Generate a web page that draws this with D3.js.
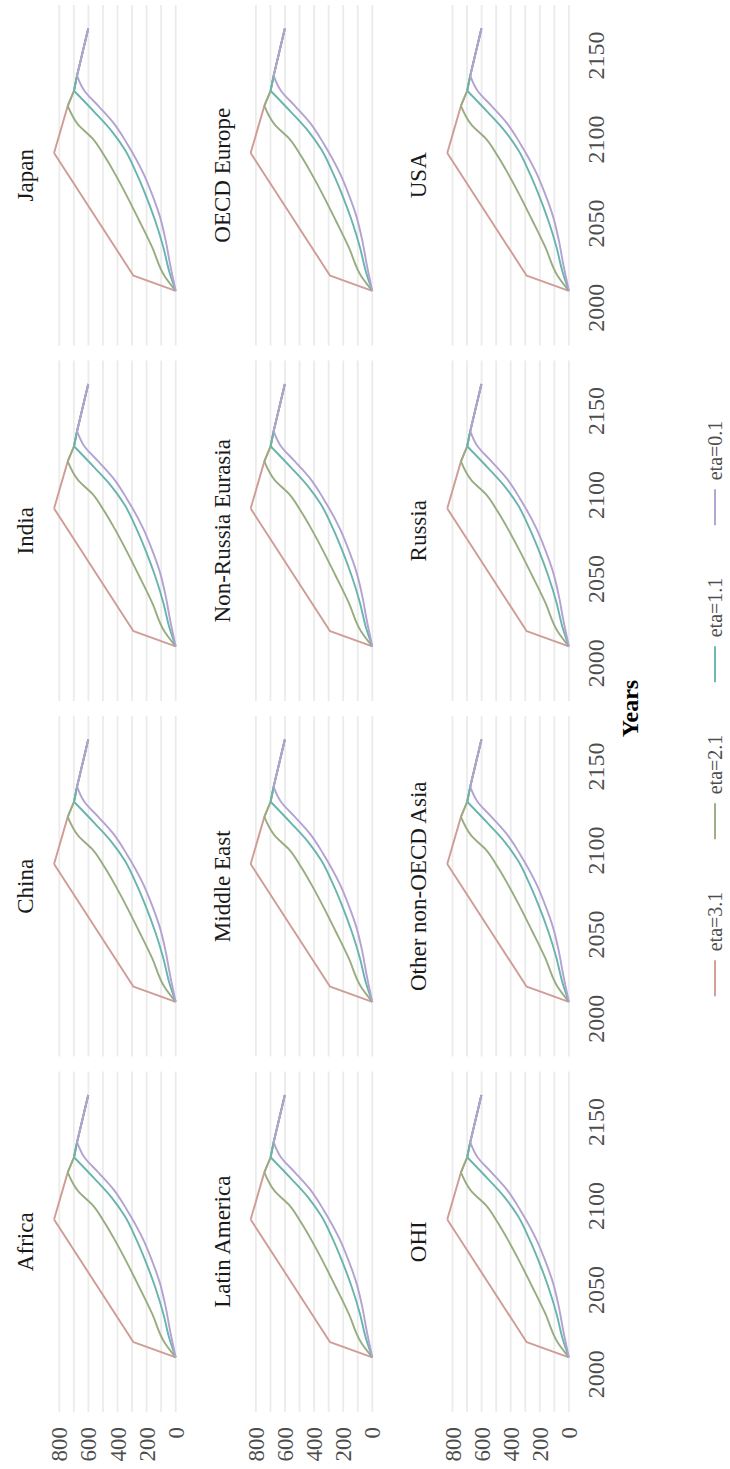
<!DOCTYPE html>
<html>
<head>
<meta charset="utf-8">
<script src="https://cdn.jsdelivr.net/npm/d3@7"></script>
<style>
  body { margin: 0; background: #fff; }
  text { font-family: "Liberation Serif", "DejaVu Serif", serif; }
</style>
</head>
<body>
<svg id="chart"></svg>
<script>
var WIDTH = 730;
var HEIGHT = 1469;

// data
var regions = ['Africa', 'China', 'India', 'Japan',
  'Latin America', 'Middle East', 'Non-Russia Eurasia', 'OECD Europe',
  'OHI', 'Other non-OECD Asia', 'Russia', 'USA'];
var etaLabels = ['eta=3.1', 'eta=2.1', 'eta=1.1', 'eta=0.1'];
var etaColors = ['#cf9c96', '#97ad80', '#68b4ae', '#b3a2d3'];
var etaCurves = [d3.curveLinear, d3.curveMonotoneX, d3.curveMonotoneX, d3.curveMonotoneX];

var years31 = [2010, 2019, 2092, 2120, 2129, 2138, 2166];
var vals31  = [0, 290, 836, 742, 699, 678, 601];
var years21 = [2010, 2019, 2036, 2052, 2068, 2080, 2090, 2100, 2109, 2120, 2129, 2138, 2166];
var vals21  = [0, 78, 162, 252, 345, 420, 488, 565, 672, 742, 699, 678, 601];
var years11 = [2010, 2022, 2036, 2052, 2068, 2080, 2094, 2105, 2116, 2129, 2138, 2166];
var vals11  = [0, 46, 85, 142, 211, 270, 350, 440, 555, 699, 678, 601];
var years01 = [2010, 2026, 2040, 2054, 2068, 2080, 2098, 2110, 2120, 2129, 2138, 2166];
var vals01  = [0, 39, 69, 108, 165, 223, 337, 429, 532, 628, 678, 601];

var xTicks = [2000, 2050, 2100, 2150];
var yTicks = [0, 200, 400, 600, 800];
var gridVals = [0, 100, 200, 300, 400, 500, 600, 700, 800];

var series = [
  {years: years31, vals: vals31},
  {years: years21, vals: vals21},
  {years: years11, vals: vals11},
  {years: years01, vals: vals01}
].map(function(s, i){
  var pts = s.years.map(function(y, j){ return [y, s.vals[j]]; });
  var peak = d3.maxIndex(s.vals);
  return {
    label: etaLabels[i],
    color: etaColors[i],
    curve: etaCurves[i],
    rise: pts.slice(0, peak + 1),
    tail: pts.slice(peak)
  };
});

// the chart is built landscape and then turned a quarter turn
var svg = d3.select('#chart')
  .attr('width', WIDTH)
  .attr('height', HEIGHT);
var root = svg.append('g')
  .attr('transform', 'translate(0,' + HEIGHT + ') rotate(-90)');

var PANEL_LEFT = 57, PANEL_W = 340.5, GAP_X = 15;
var ROW_STEP = 196.6;

var xScale = d3.scaleLinear().domain([1977.5, 2180]).range([0, PANEL_W]);
var yScale = d3.scaleLinear().domain([0, 800]).range([175.7, 59.3]);

var lineFor = function(curve){
  return d3.line()
    .x(function(d){ return xScale(d[0]); })
    .y(function(d){ return yScale(d[1]); })
    .curve(curve);
};

var panels = root.selectAll('g.panel')
  .data(regions)
  .enter()
  .append('g')
  .attr('class', 'panel')
  .attr('transform', function(d, i){
    var c = i % 4, r = Math.floor(i / 4);
    return 'translate(' + (PANEL_LEFT + c * (PANEL_W + GAP_X)) + ',' + (r * ROW_STEP) + ')';
  });

panels.each(function(name, i){
  var p = d3.select(this);
  var c = i % 4, r = Math.floor(i / 4);

  p.selectAll('line.grid')
    .data(gridVals)
    .enter()
    .append('line')
    .attr('x1', 0)
    .attr('x2', PANEL_W)
    .attr('y1', function(v){ return yScale(v); })
    .attr('y2', function(v){ return yScale(v); })
    .attr('stroke', '#ebebeb')
    .attr('stroke-width', 1.8);

  var sg = p.selectAll('g.series')
    .data(series)
    .enter()
    .append('g');
  sg.append('path')
    .attr('d', function(s){ return lineFor(s.curve)(s.rise); });
  sg.append('path')
    .attr('d', function(s){ return lineFor(d3.curveLinear)(s.tail); });
  sg.selectAll('path')
    .attr('fill', 'none')
    .attr('stroke', function(){ return d3.select(this.parentNode).datum().color; })
    .attr('stroke-width', 1.9)
    .attr('stroke-linejoin', 'round');

  p.append('text')
    .attr('x', PANEL_W / 2)
    .attr('y', 25)
    .attr('dy', '0.35em')
    .attr('text-anchor', 'middle')
    .attr('font-size', 23)
    .attr('fill', '#1a1a1a')
    .text(name);

  if (c === 0) {
    p.selectAll('text.ytick')
      .data(yTicks)
      .enter()
      .append('text')
      .attr('x', -15)
      .attr('y', function(v){ return yScale(v); })
      .attr('dy', '0.35em')
      .attr('text-anchor', 'end')
      .attr('font-size', 23)
      .attr('fill', '#4d4d4d')
      .text(function(v){ return v; });
  }
  if (r === 2) {
    p.selectAll('text.xtick')
      .data(xTicks)
      .enter()
      .append('text')
      .attr('x', function(v){ return xScale(v); })
      .attr('y', yScale(0) + 27)
      .attr('dy', '0.35em')
      .attr('text-anchor', 'middle')
      .attr('font-size', 24)
      .attr('fill', '#4d4d4d')
      .text(function(v){ return v; });
  }
});

var areaMid = PANEL_LEFT + (4 * PANEL_W + 3 * GAP_X) / 2;

root.append('text')
  .attr('x', areaMid)
  .attr('y', 630)
  .attr('dy', '0.35em')
  .attr('text-anchor', 'middle')
  .attr('font-size', 24)
  .attr('font-weight', 'bold')
  .attr('fill', '#000')
  .text('Years');

// legend along the bottom, evenly spaced items
var KEY_W = 36, KEY_GAP = 9, ITEM_PITCH = 157;
var legend = root.append('g').attr('transform', 'translate(0,715)');
var items = legend.selectAll('g.item')
  .data(series)
  .enter()
  .append('g')
  .attr('class', 'item');
items.append('line')
  .attr('x1', 0).attr('x2', KEY_W)
  .attr('y1', 0).attr('y2', 0)
  .attr('stroke', function(s){ return s.color; })
  .attr('stroke-width', 1.9);
items.append('text')
  .attr('x', KEY_W + KEY_GAP)
  .attr('dy', '0.35em')
  .attr('font-size', 20)
  .attr('fill', '#4d4d4d')
  .text(function(s){ return s.label; });

var lastW = items.nodes()[series.length - 1].getBBox().width;
var total = ITEM_PITCH * (series.length - 1) + lastW;
var start = areaMid - total / 2;
items.attr('transform', function(d, i){
  return 'translate(' + (start + i * ITEM_PITCH) + ',0)';
});
</script>
</body>
</html>
